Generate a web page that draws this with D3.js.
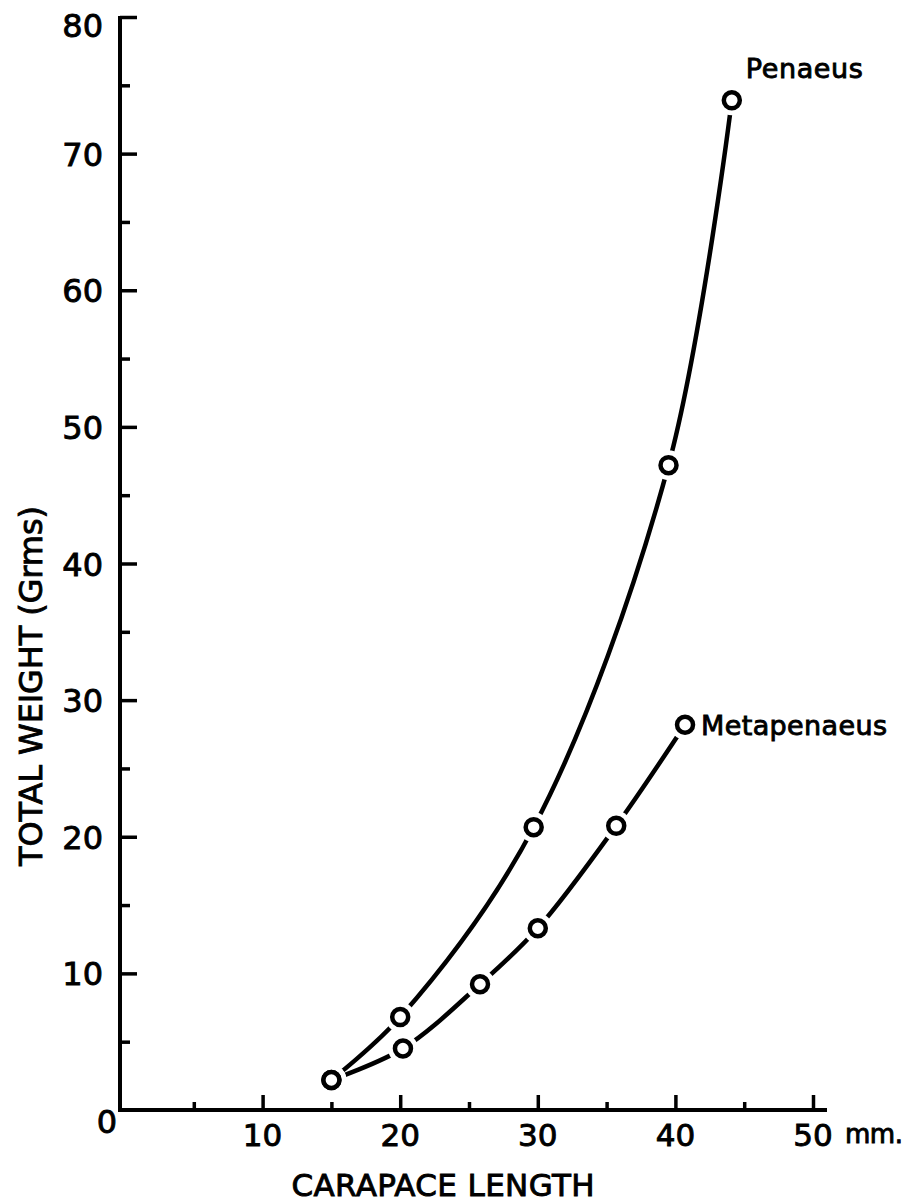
<!DOCTYPE html>
<html>
<head>
<meta charset="utf-8">
<script src="https://cdn.jsdelivr.net/npm/d3@7"></script>
<style>
  html, body { margin: 0; padding: 0; background: #fff; }
  svg { display: block; }
  text { font-family: "DejaVu Sans", sans-serif; fill: #000; stroke: #000; stroke-width: 0.9px; }
</style>
</head>
<body>
<svg id="chart" width="907" height="1202"></svg>
<script>
// ---- data ----
const penaeusLength = [15, 20, 29.7, 39.5, 44.1];
const penaeusWeight = [2.2, 6.8, 20.7, 47.2, 73.9];
const metaLength = [15, 20.2, 25.8, 30, 35.7, 40.7];
const metaWeight = [2.2, 4.5, 9.2, 13.3, 20.8, 28.2];
const seriesNames = ["Penaeus", "Metapenaeus"];
const xMajorTicks = [10, 20, 30, 40, 50];
const xMinorTicks = [5, 15, 25, 35, 45];
const yMajorTicks = [10, 20, 30, 40, 50, 60, 70, 80];
const yMinorTicks = [5, 15, 25, 35, 45, 55, 65, 75];
const xTitle = "CARAPACE LENGTH";
const yTitle = "TOTAL WEIGHT (Grms)";
const xUnit = "mm.";

// ---- layout ----
const svg = d3.select("#chart");
const x = d3.scaleLinear().domain([0, 50]).range([125, 813]);
const y = d3.scaleLinear().domain([0, 80]).range([1110, 17]);
const axisX = 120;           // y axis line position
const axisY = y(0);
const sw = 4;

// y axis line
svg.append("line")
  .attr("x1", axisX).attr("x2", axisX)
  .attr("y1", axisY + 2).attr("y2", y(80) - 1)
  .attr("stroke", "#000").attr("stroke-width", sw);
// x axis line
svg.append("line")
  .attr("x1", axisX - 2).attr("x2", 827)
  .attr("y1", axisY).attr("y2", axisY)
  .attr("stroke", "#000").attr("stroke-width", sw);

// y ticks (inside, pointing right)
const yMajAxis = d3.axisRight(y).tickValues(yMajorTicks).tickSize(17).tickFormat("");
const yMinAxis = d3.axisRight(y).tickValues(yMinorTicks).tickSize(10).tickFormat("");
[yMajAxis, yMinAxis].forEach(a => {
  const g = svg.append("g").attr("transform", `translate(${axisX},0)`).call(a);
  g.select(".domain").remove();
  g.selectAll("line").attr("stroke", "#000").attr("stroke-width", 3.5);
});
// x ticks (inside, pointing up)
const xMajAxis = d3.axisTop(x).tickValues(xMajorTicks).tickSize(15).tickFormat("");
const xMinAxis = d3.axisTop(x).tickValues(xMinorTicks).tickSize(8).tickFormat("");
[xMajAxis, xMinAxis].forEach(a => {
  const g = svg.append("g").attr("transform", `translate(0,${axisY})`).call(a);
  g.select(".domain").remove();
  g.selectAll("line").attr("stroke", "#000").attr("stroke-width", 3.5);
});

// y tick labels
svg.append("g").selectAll("text")
  .data(yMajorTicks).join("text")
  .attr("x", axisX - 17)
  .attr("y", d => Math.max(y(d) + 12, 37))
  .attr("text-anchor", "end")
  .attr("font-size", 32)
  .text(d => d);
// origin label
svg.append("text")
  .attr("x", 107).attr("y", 1133)
  .attr("text-anchor", "middle").attr("font-size", 32)
  .text("0");
// x tick labels
svg.append("g").selectAll("text")
  .data(xMajorTicks).join("text")
  .attr("x", d => x(d))
  .attr("y", 1146)
  .attr("text-anchor", "middle")
  .attr("font-size", 31)
  .text(d => d);
svg.append("text")
  .attr("x", 845).attr("y", 1143)
  .attr("font-size", 26)
  .attr("textLength", 58)
  .text(xUnit);

// axis titles
svg.append("text")
  .attr("x", 443).attr("y", 1196)
  .attr("text-anchor", "middle")
  .attr("font-size", 31)
  .attr("textLength", 303)
  .text(xTitle);
svg.append("text")
  .attr("transform", "translate(42,686) rotate(-90)")
  .attr("text-anchor", "middle")
  .attr("font-size", 32)
  .attr("textLength", 360)
  .text(yTitle);

// ---- series ----
const penaeus = penaeusLength.map((d, i) => [d, penaeusWeight[i]]);
const meta = metaLength.map((d, i) => [d, metaWeight[i]]);
const line = d3.line()
  .x(d => x(d[0])).y(d => y(d[1]))
  .curve(d3.curveCatmullRom.alpha(0.5));

[penaeus, meta].forEach(s => {
  svg.append("path")
    .attr("d", line(s))
    .attr("fill", "none")
    .attr("stroke", "#000")
    .attr("stroke-width", 4.5);
});

const allPts = penaeus.concat(meta);
// white halos create the gaps
svg.append("g").selectAll("circle")
  .data(allPts).join("circle")
  .attr("cx", d => x(d[0])).attr("cy", d => y(d[1]))
  .attr("r", 15).attr("fill", "#fff");
svg.append("g").selectAll("circle")
  .data(allPts).join("circle")
  .attr("cx", d => x(d[0])).attr("cy", d => y(d[1]))
  .attr("r", 8).attr("fill", "#fff")
  .attr("stroke", "#000").attr("stroke-width", 4.5);

// series labels
const pLast = penaeus[penaeus.length - 1];
svg.append("text")
  .attr("x", x(pLast[0]) + 14).attr("y", y(pLast[1]) - 22)
  .attr("font-size", 27)
  .attr("textLength", 117)
  .text(seriesNames[0]);
const mLast = meta[meta.length - 1];
svg.append("text")
  .attr("x", x(mLast[0]) + 16).attr("y", y(mLast[1]) + 10)
  .attr("font-size", 27)
  .attr("textLength", 186)
  .text(seriesNames[1]);
</script>
</body>
</html>
